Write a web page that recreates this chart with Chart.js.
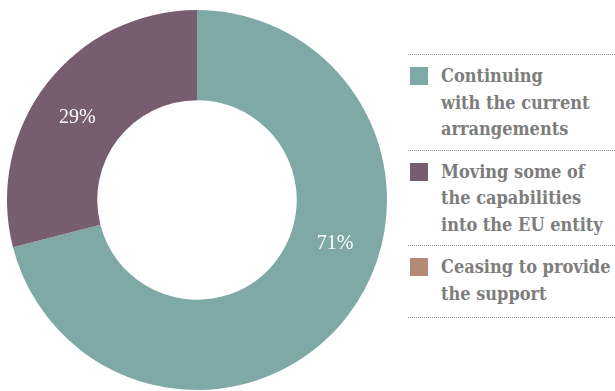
<!DOCTYPE html>
<html>
<head>
<meta charset="utf-8">
<script src="https://cdn.jsdelivr.net/npm/chart.js@4"></script>
<style>
  html, body { margin: 0; padding: 0; background: #fff; }
  #wrap { position: relative; width: 615px; height: 391px; overflow: hidden; }
  #chartBox { position: absolute; left: 0; top: 0; width: 394px; height: 391px; }
  #legend { position: absolute; left: 408px; top: 54px; width: 207px; margin: 0; padding: 0; list-style: none; }
  #legend li { border-top: 1px dotted #9a9a9a; padding: 8px 0 7px 33px; position: relative; white-space: nowrap;
    font-family: "DejaVu Serif", serif; font-stretch: condensed; font-weight: bold; font-size: 18px;
    line-height: 26.5px; color: #7d7d7d; }
  #legend li:last-child { border-bottom: 1px dotted #9a9a9a; padding-bottom: 10px; }
  #legend .sw { position: absolute; left: 2px; top: 12px; width: 18px; height: 18px; }
</style>
</head>
<body>
<div id="wrap">
  <div id="chartBox"><canvas id="c"></canvas></div>
  <ul id="legend"></ul>
</div>
<script>
const categories = [
  "Continuing with the current arrangements",
  "Moving some of the capabilities into the EU entity",
  "Ceasing to provide the support"
];
const legendLines = [
  ["Continuing", "with the current", "arrangements"],
  ["Moving some of", "the capabilities", "into the EU entity"],
  ["Ceasing to provide", "the support"]
];
const shares = [71, 29, 0];
const colors = ["#7fa9a6", "#765d70", "#b38a76"];

// white percentage labels drawn inside each slice
const sliceLabels = {
  id: "sliceLabels",
  afterDatasetsDraw(chart, args, opts) {
    const ctx = chart.ctx;
    const meta = chart.getDatasetMeta(0);
    ctx.save();
    ctx.fillStyle = "#ffffff";
    ctx.font = "20px 'Liberation Serif', serif";
    ctx.textAlign = "center";
    ctx.textBaseline = "middle";
    meta.data.forEach((arc, i) => {
      const v = chart.data.datasets[0].data[i];
      if (!v) return;
      const p = arc.getProps(["x", "y", "startAngle", "endAngle", "innerRadius", "outerRadius"], true);
      const shift = (opts.angleShift && opts.angleShift[i]) || 0;
      const a = (p.startAngle + p.endAngle) / 2 + shift;
      const r = (p.innerRadius + p.outerRadius) / 2;
      ctx.fillText(v + "%", p.x + Math.cos(a) * r, p.y + Math.sin(a) * r);
    });
    ctx.restore();
  }
};

new Chart(document.getElementById("c"), {
  type: "doughnut",
  data: {
    labels: categories,
    datasets: [{ data: shares, backgroundColor: colors, borderWidth: 0 }]
  },
  options: {
    responsive: true,
    maintainAspectRatio: false,
    animation: false,
    cutout: "52.5%",
    layout: { padding: { left: 7, right: 7, top: 10, bottom: 1 } },
    plugins: {
      legend: { display: false },
      tooltip: { enabled: false },
      sliceLabels: { angleShift: [-0.35, -0.06] }
    }
  },
  plugins: [sliceLabels]
});

const ul = document.getElementById("legend");
legendLines.forEach((lines, i) => {
  const li = document.createElement("li");
  const sw = document.createElement("span");
  sw.className = "sw";
  sw.style.background = colors[i];
  li.appendChild(sw);
  li.insertAdjacentHTML("beforeend", lines.join("<br>"));
  ul.appendChild(li);
});
</script>
</body>
</html>
